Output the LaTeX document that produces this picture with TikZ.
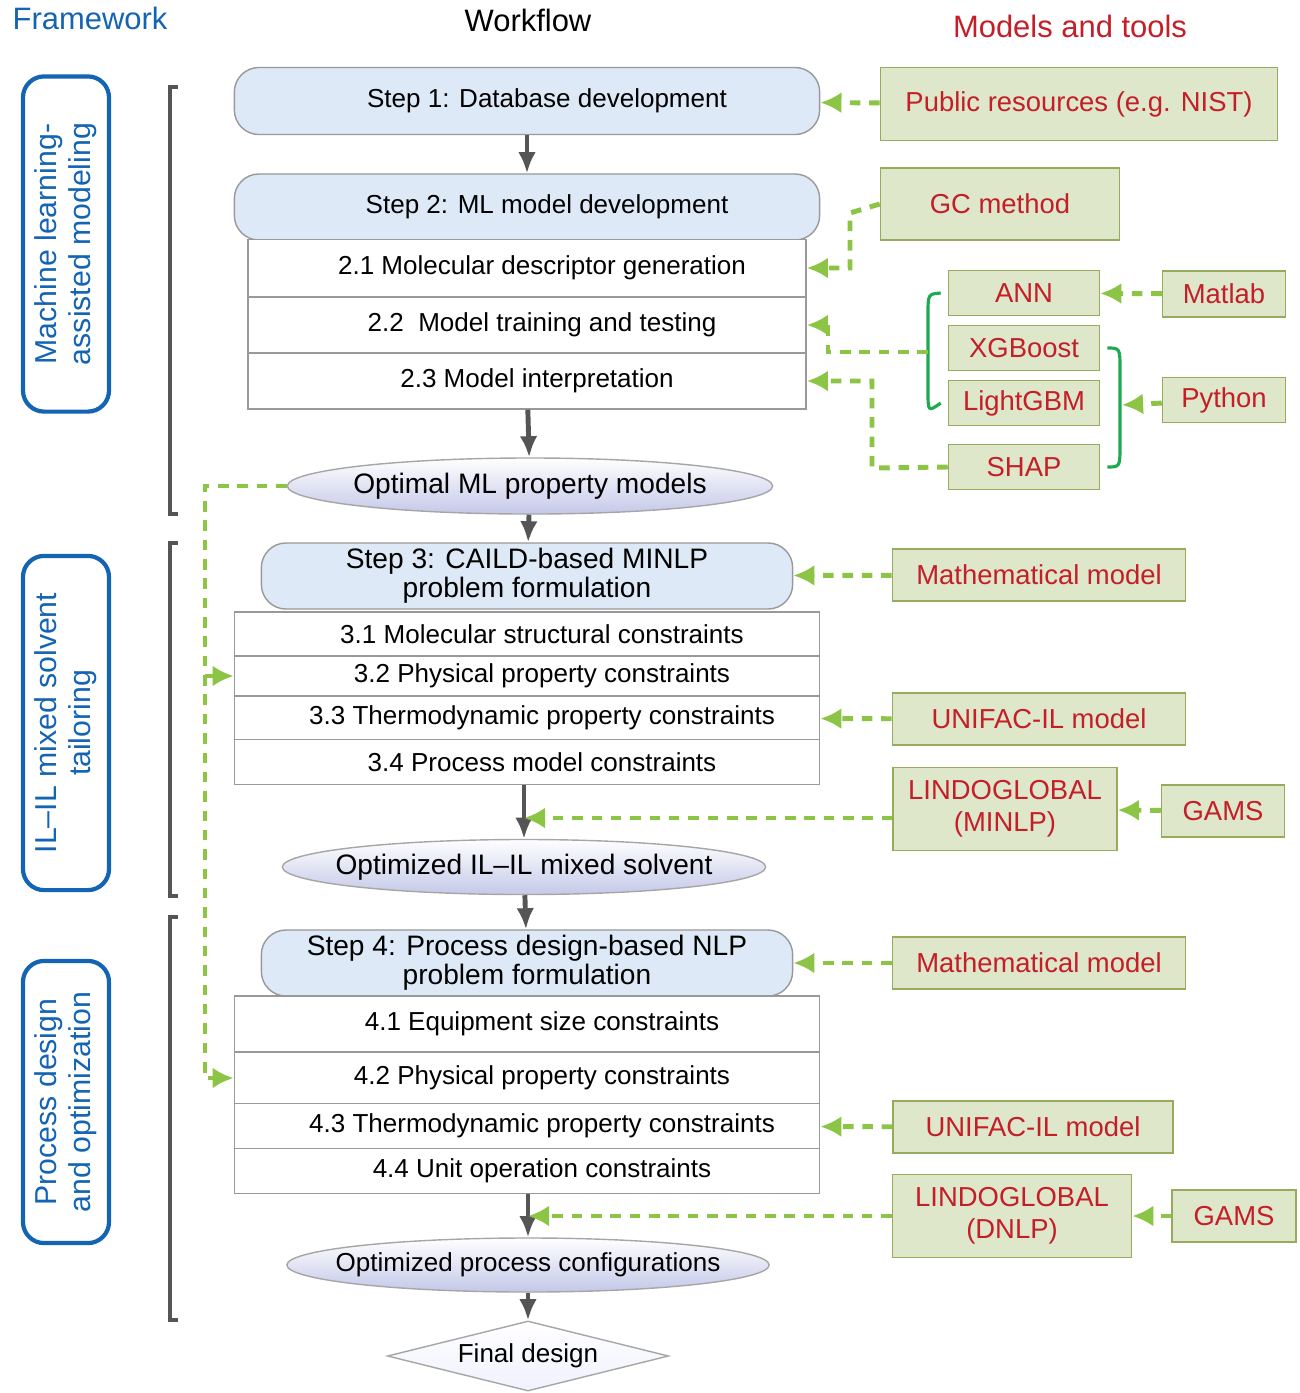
\documentclass[tikz,border=0pt]{standalone}
\usepackage{fontspec}
\setmainfont{Liberation Sans}
\usetikzlibrary{arrows.meta,shapes.geometric}
\definecolor{stepfill}{RGB}{221,233,246}
\definecolor{toolfill}{RGB}{222,231,202}
\definecolor{tooldraw}{RGB}{150,172,90}
\definecolor{tooltext}{RGB}{196,30,40}
\definecolor{dashgreen}{RGB}{140,196,70}
\definecolor{bracegreen}{RGB}{30,170,80}
\definecolor{fwblue}{RGB}{20,100,180}
\definecolor{ellfill}{RGB}{196,200,232}
\definecolor{flowgray}{RGB}{85,85,85}
\tikzset{
  stepbox/.style={draw=gray!80, fill=stepfill, rounded corners=7pt, align=center, inner sep=0pt, xshift=0.1cm},
  subbox/.style={draw=gray!80, fill=white, inner sep=0pt},
  resbox/.style={ellipse, draw=gray!70, top color=white, bottom color=ellfill, inner xsep=-4mm, inner ysep=-2mm},
  toolbox/.style={draw=tooldraw, fill=toolfill, text=tooltext, align=center, inner sep=0pt, font=\fontsize{7.8}{9}\selectfont},
  framebox/.style={draw=fwblue, line width=1.2pt, rounded corners=6pt, text=fwblue, align=center, rotate=90, inner sep=0pt, font=\fontsize{8.6}{9.6}\selectfont},
  flowarrow/.style={-{Latex[length=6pt,width=5pt]}, flowgray, line width=1.4pt},
  feedarrow/.style={-{Latex[length=6pt,width=6pt]}, dashgreen, line width=1.4pt, dash pattern=on 3pt off 2.5pt},
  algbrace/.style={bracegreen, line width=0.9pt},
  stagebracket/.style={flowgray, line width=1.3pt}
}
\begin{document}
\begin{tikzpicture}[x=0.01cm, y=-0.01cm, font=\fontsize{7.4}{8.2}\selectfont]
\useasboundingbox (0,0) rectangle (1299,1393);

% headings
\node[text=fwblue, font=\fontsize{8.8}{10}\selectfont] (hfw) at (90,18) {Framework};
\node[font=\fontsize{8.8}{10}\selectfont] (hwf) at (528,20) {Workflow};
\node[text=tooltext, font=\fontsize{8.8}{10}\selectfont] (hmt) at (1070,26) {Models and tools};

% framework stages
\node[framebox, minimum width=3.35cm, minimum height=0.86cm] (fw1) at (66,244) {Machine learning-\\assisted modeling};
\node[framebox, minimum width=3.34cm, minimum height=0.86cm] (fw2) at (66,723) {IL--IL mixed solvent\\tailoring};
\node[framebox, minimum width=2.82cm, minimum height=0.86cm] (fw3) at (66,1102) {Process design\\and optimization};
\draw[stagebracket] (178,87) -- (170,87) -- (170,514) -- (178,514);
\draw[stagebracket] (178,543) -- (170,543) -- (170,896) -- (178,896);
\draw[stagebracket] (178,917) -- (170,917) -- (170,1320) -- (178,1320);

% step 1 and 2
\node[stepbox, xshift=-0.1cm, minimum width=5.85cm, minimum height=0.67cm] (s1) at (527,101) {\hspace*{0.4cm}Step 1: Database development};
\node[stepbox, xshift=-0.1cm, minimum width=5.85cm, minimum height=0.66cm] (s2) at (527,207) {\hspace*{0.4cm}Step 2: ML model development};
\node[subbox, minimum width=5.58cm, minimum height=0.57cm] (s21) at (527,268) {\hspace*{0.3cm}2.1 Molecular descriptor generation};
\node[subbox, minimum width=5.58cm, minimum height=0.56cm] (s22) at (527,325) {\hspace*{0.3cm}2.2\ \ Model training and testing};
\node[subbox, minimum width=5.58cm, minimum height=0.56cm] (s23) at (527,381) {\hspace*{0.2cm}2.3 Model interpretation};
\node[resbox, minimum width=4.85cm, minimum height=0.56cm] (r1) at (530,486) {\fontsize{8}{9}\selectfont Optimal ML property models};

% step 3
\node[stepbox, xshift=-0.1cm, minimum width=5.31cm, minimum height=0.66cm, font=\fontsize{8}{8.2}\selectfont] (s3) at (527,576) {Step 3: CAILD-based MINLP\\problem formulation};
\node[subbox, minimum width=5.85cm, minimum height=0.44cm] (s31) at (527,634) {\hspace*{0.3cm}3.1 Molecular structural constraints};
\node[subbox, minimum width=5.85cm, minimum height=0.40cm] (s32) at (527,676) {\hspace*{0.3cm}3.2 Physical property constraints};
\node[subbox, minimum width=5.85cm, minimum height=0.44cm] (s33) at (527,718) {\hspace*{0.3cm}3.3 Thermodynamic property constraints};
\node[subbox, minimum width=5.85cm, minimum height=0.45cm] (s34) at (527,762) {\hspace*{0.3cm}3.4 Process model constraints};
\node[resbox, minimum width=4.83cm, minimum height=0.55cm] (r2) at (524,867) {\fontsize{8}{9}\selectfont Optimized IL--IL mixed solvent};

% step 4
\node[stepbox, xshift=-0.1cm, minimum width=5.31cm, minimum height=0.66cm, font=\fontsize{8}{8.2}\selectfont] (s4) at (527,963) {Step 4: Process design-based NLP\\problem formulation};
\node[subbox, minimum width=5.85cm, minimum height=0.56cm] (s41) at (527,1024) {\hspace*{0.3cm}4.1 Equipment size constraints};
\node[subbox, minimum width=5.85cm, minimum height=0.52cm] (s42) at (527,1078) {\hspace*{0.3cm}4.2 Physical property constraints};
\node[subbox, minimum width=5.85cm, minimum height=0.45cm] (s43) at (527,1126) {\hspace*{0.3cm}4.3 Thermodynamic property constraints};
\node[subbox, minimum width=5.85cm, minimum height=0.45cm] (s44) at (527,1171) {\hspace*{0.3cm}4.4 Unit operation constraints};
\node[resbox, minimum width=4.82cm, minimum height=0.54cm] (r3) at (528,1265) {Optimized process configurations};
\node[diamond, aspect=4, draw=gray!70, top color=white, bottom color=stepfill!80!blue!20, inner sep=-1mm, minimum width=2.81cm, minimum height=0.70cm] (fin) at (528,1356) {Final design};

% models and tools
\node[toolbox, minimum width=3.97cm, minimum height=0.73cm] (t1) at (1079,104) {Public resources (e.g. NIST)};
\node[toolbox, minimum width=2.39cm, minimum height=0.72cm] (tgc) at (1000,204) {GC method};
\node[toolbox, minimum width=1.51cm, minimum height=0.45cm] (tann) at (1024,293) {ANN};
\node[toolbox, minimum width=1.51cm, minimum height=0.45cm] (txgb) at (1024,348) {XGBoost};
\node[toolbox, minimum width=1.51cm, minimum height=0.45cm] (tlgb) at (1024,403) {LightGBM};
\node[toolbox, minimum width=1.51cm, minimum height=0.45cm] (tshap) at (1024,467) {SHAP};
\node[toolbox, minimum width=1.23cm, minimum height=0.46cm] (tmat) at (1224,294) {Matlab};
\node[toolbox, minimum width=1.23cm, minimum height=0.45cm] (tpy) at (1224,400) {Python};
\node[toolbox, minimum width=2.93cm, minimum height=0.52cm] (tmm1) at (1039,575) {Mathematical model};
\node[toolbox, minimum width=2.93cm, minimum height=0.52cm] (tuf1) at (1039,719) {UNIFAC-IL model};
\node[toolbox, minimum width=2.24cm, minimum height=0.83cm] (tlg1) at (1005,809) {LINDOGLOBAL\\(MINLP)};
\node[toolbox, minimum width=1.23cm, minimum height=0.52cm] (tga1) at (1223,811) {GAMS};
\node[toolbox, minimum width=2.93cm, minimum height=0.52cm] (tmm2) at (1039,963) {Mathematical model};
\node[toolbox, minimum width=2.80cm, minimum height=0.52cm] (tuf2) at (1033,1127) {UNIFAC-IL model};
\node[toolbox, minimum width=2.39cm, minimum height=0.83cm] (tlg2) at (1012,1216) {LINDOGLOBAL\\(DNLP)};
\node[toolbox, minimum width=1.24cm, minimum height=0.52cm] (tga2) at (1234,1216) {GAMS};

% braces around algorithms
\draw[algbrace] ([xshift=-2pt]tann.west) .. controls (928,294) .. (928,315) -- (928,390) .. controls (928,412) .. ([xshift=-2pt]tlgb.west);
\coordinate (bl) at (928,352);
\draw[algbrace] ([xshift=2pt]txgb.east) .. controls (1120,348) .. (1120,370) -- (1120,445) .. controls (1120,467) .. ([xshift=2pt]tshap.east);
\coordinate (br) at (1122,405);

% workflow
\coordinate (jn1) at (524,818);
\coordinate (jn2) at (528,1216);
\draw[flowarrow] (s1) -- (s2);
\draw[flowarrow] (s23) -- (r1);
\draw[flowarrow] (r1) -- (s3);
\draw[flowarrow] (s34.south -| r2) -- (r2);
\draw[flowarrow] (r2) -- (s4);
\draw[flowarrow] (s44.south -| r3) -- (r3);
\draw[flowarrow] (r3) -- (fin);

% feeds from models and tools
\draw[feedarrow] (t1) -- (s1);
\draw[feedarrow] (tgc.west) -- (850,213) -- (850,268) -- (s21.east);
\draw[feedarrow] (bl) -- (828,352) -- (828,325) -- (s22.east);
\draw[feedarrow] (tshap.west) -- (872,468) -- (872,381) -- (s23.east);
\draw[feedarrow] (tmat) -- (tann);
\draw[feedarrow] (tpy) -- (br);
\draw[feedarrow] (tmm1) -- (s3);
\draw[feedarrow] (tuf1) -- (s33);
\draw[feedarrow] (tlg1.west |- jn1) -- (jn1);
\draw[feedarrow] (tga1) -- (tlg1);
\draw[feedarrow] (tmm2) -- (s4);
\draw[feedarrow] (tuf2) -- (s43);
\draw[feedarrow] (tlg2.west |- jn2) -- (jn2);
\draw[feedarrow] (tga2) -- (tlg2);
\draw[feedarrow] (r1.west) -- (205,486) -- (205,1078) -- (s42.west);
\draw[feedarrow] (205,676) -- (s32.west);
\end{tikzpicture}
\end{document}
